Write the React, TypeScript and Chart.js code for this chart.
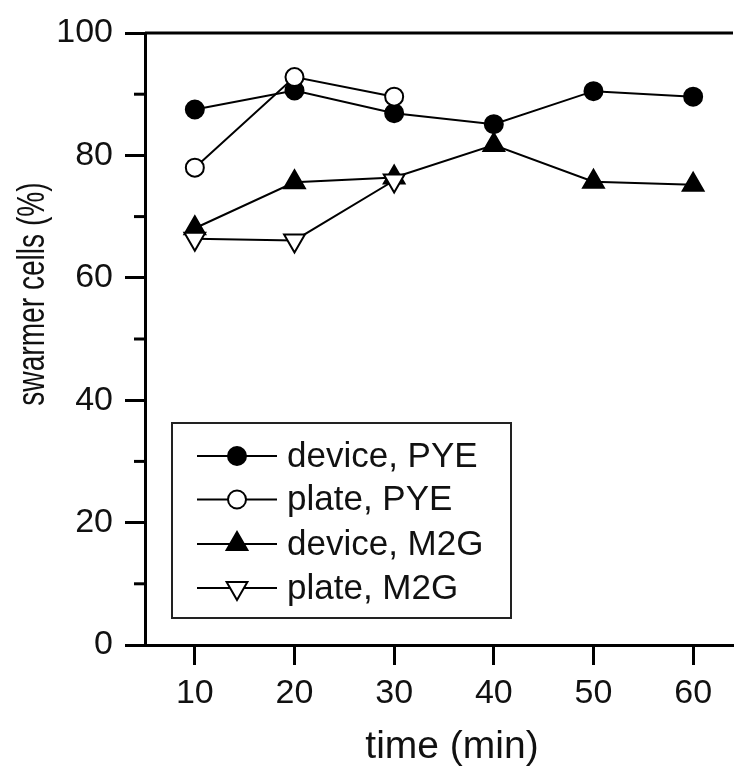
import React, { useEffect, useRef } from "react";
import { Chart, registerables } from "chart.js";
import { drawPoint } from "chart.js/helpers";

Chart.register(...registerables);

const times = [10, 20, 30, 40, 50, 60];
const devicePYE = [87.5, 90.6, 86.9, 85.1, 90.5, 89.6];
const platePYE = [78.0, 92.8, 89.6];
const deviceM2G = [68.1, 75.6, 76.4, 81.7, 75.7, 75.2];
const plateM2G = [66.4, 66.1, 75.9];
const seriesLabels = ["device, PYE", "plate, PYE", "device, M2G", "plate, M2G"];
const xTicks = [10, 20, 30, 40, 50, 60];
const yTicks = [0, 10, 20, 30, 40, 50, 60, 70, 80, 90, 100];
const xTitle = "time (min)";
const yTitle = "swarmer cells (%)";

const FONT = "'Liberation Sans', Arial, sans-serif";

const toPts = (ys: number[]) => ys.map((y, i) => ({ x: times[i], y }));

const decor = {
  id: "decor",
  afterDraw(chart: any) {
    const ctx = chart.ctx;
    const { left, right, top } = chart.chartArea;
    const yScale = chart.scales.y;
    ctx.save();
    ctx.strokeStyle = "#000";
    // top frame
    ctx.lineWidth = 3;
    ctx.beginPath();
    ctx.moveTo(left, top);
    ctx.lineTo(right, top);
    ctx.stroke();
    // minor y ticks
    yTicks.forEach((v) => {
      if (v % 20 !== 0) {
        const py = yScale.getPixelForValue(v);
        ctx.beginPath();
        ctx.moveTo(left - 11, py);
        ctx.lineTo(left, py);
        ctx.stroke();
      }
    });
    // titles
    ctx.fillStyle = "#111";
    ctx.textAlign = "center";
    ctx.textBaseline = "middle";
    ctx.font = `39px ${FONT}`;
    ctx.fillText(xTitle, 452, 747);
    ctx.save();
    ctx.translate(34, 294);
    ctx.rotate(-Math.PI / 2);
    ctx.scale(0.74, 1);
    ctx.font = `38px ${FONT}`;
    ctx.fillText(yTitle, 0, 0);
    ctx.restore();

    // legend
    const bx = 172, by = 423, bw = 339, bh = 195;
    ctx.fillStyle = "#fff";
    ctx.fillRect(bx, by, bw, bh);
    ctx.lineWidth = 2;
    ctx.strokeStyle = "#222";
    ctx.strokeRect(bx, by, bw, bh);
    const rowY = [456, 499.5, 544, 588];
    chart.data.datasets.forEach((ds: any, i: number) => {
      const y = rowY[i];
      ctx.strokeStyle = "#000";
      ctx.lineWidth = 2;
      ctx.beginPath();
      ctx.moveTo(197, y);
      ctx.lineTo(277, y);
      ctx.stroke();
      ctx.fillStyle = ds.pointBackgroundColor;
      ctx.strokeStyle = "#000";
      ctx.lineWidth = ds.pointBorderWidth;
      drawPoint(ctx, {
        pointStyle: ds.pointStyle,
        radius: ds.pointRadius,
        rotation: ds.pointRotation || 0,
        borderWidth: ds.pointBorderWidth,
      } as any, 237, y);
      ctx.fillStyle = "#111";
      ctx.textAlign = "left";
      ctx.textBaseline = "middle";
      ctx.font = `35px ${FONT}`;
      ctx.fillText(ds.label, 287, y + 1);
    });
    ctx.restore();
  },
};

export default function App() {
  const ref = useRef<HTMLCanvasElement>(null);
  useEffect(() => {
    if (!ref.current) return;
    const common = {
      borderColor: "#000",
      borderWidth: 2,
      pointBorderColor: "#000",
      pointBorderWidth: 2,
      showLine: true,
      tension: 0,
    };
    const chart = new Chart(ref.current, {
      type: "scatter",
      data: {
        datasets: [
          { ...common, label: seriesLabels[0], data: toPts(devicePYE), pointStyle: "circle", pointRadius: 9, pointBackgroundColor: "#000", order: 4 },
          { ...common, label: seriesLabels[1], data: toPts(platePYE), pointStyle: "circle", pointRadius: 9, pointBackgroundColor: "#fff", order: 3 },
          { ...common, label: seriesLabels[2], data: toPts(deviceM2G), pointStyle: "triangle", pointRadius: 12, pointBackgroundColor: "#000", order: 2 },
          { ...common, label: seriesLabels[3], data: toPts(plateM2G), pointStyle: "triangle", pointRotation: 180, pointRadius: 12, pointBackgroundColor: "#fff", order: 1 },
        ] as any,
      },
      options: {
        animation: false,
        responsive: false,
        layout: { padding: { top: 33, right: 0, left: 0, bottom: 0 } },
        plugins: { legend: { display: false }, tooltip: { enabled: false } },
        scales: {
          x: {
            type: "linear",
            min: 5,
            max: 64,
            afterFit: (s: any) => { s.height = 127; },
            afterBuildTicks: (s: any) => { s.ticks = xTicks.map((v) => ({ value: v })); },
            grid: { display: true, drawOnChartArea: false, drawTicks: true, tickLength: 20, tickWidth: 3, tickColor: "#000" },
            border: { display: true, width: 3, color: "#000" },
            ticks: { font: { size: 34, family: FONT }, color: "#111", padding: 8, maxRotation: 0 },
          },
          y: {
            min: 0,
            max: 100,
            afterFit: (s: any) => { s.width = 145; },
            afterBuildTicks: (s: any) => { s.ticks = yTicks.map((v) => ({ value: v })); },
            grid: {
              display: true, drawOnChartArea: false, drawTicks: true, tickLength: 20, tickWidth: 3,
              tickColor: (c: any) => (c.tick && c.tick.value % 20 === 0 ? "#000" : "rgba(0,0,0,0)"),
            },
            border: { display: true, width: 3, color: "#000" },
            ticks: {
              font: { size: 34, family: FONT }, color: "#111", padding: 12,
              callback: (v: any) => (Number(v) % 20 === 0 ? String(v) : ""),
            },
          },
        },
      } as any,
      plugins: [decor],
    });
    return () => chart.destroy();
  }, []);
  return (
    <div style={{ position: "absolute", left: 0, top: 0, width: 747, height: 772, background: "#fff" }}>
      <canvas ref={ref} width={747} height={772} style={{ display: "block" }} />
    </div>
  );
}
